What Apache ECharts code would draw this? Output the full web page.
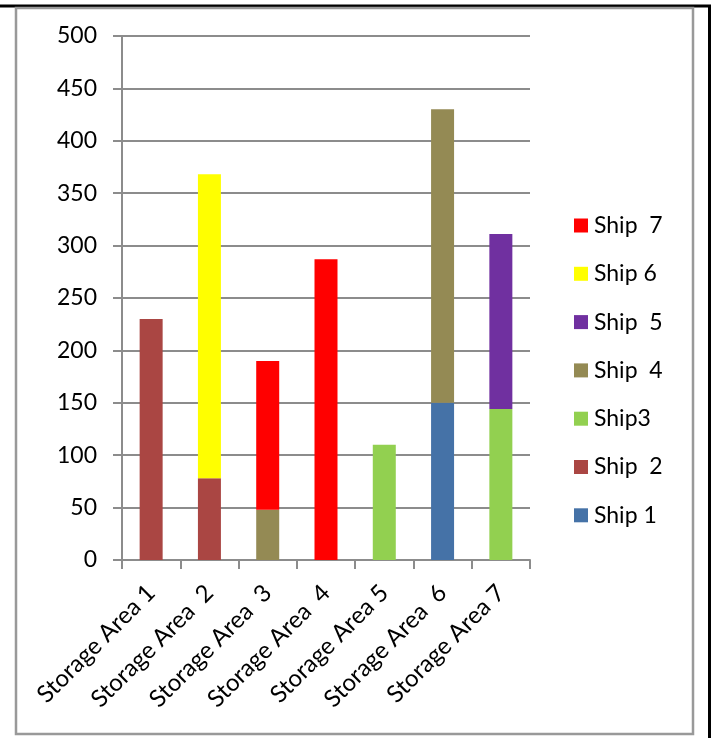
<!DOCTYPE html>
<html>
<head>
<meta charset="utf-8">
<script src="https://cdn.jsdelivr.net/npm/echarts@6/dist/echarts.min.js"></script>
<style>
  html, body { margin: 0; padding: 0; background: #fff; }
  #chart { width: 715px; height: 738px; }
</style>
</head>
<body>
<div id="chart"></div>
<script>
// categories and tick labels
var categories = ['Storage Area 1', 'Storage Area  2', 'Storage Area  3', 'Storage Area  4',
  'Storage Area 5', 'Storage Area  6', 'Storage Area 7'];
var yTicks = [0, 50, 100, 150, 200, 250, 300, 350, 400, 450, 500];

// series values, stacked bottom (Ship 1) to top (Ship 7)
var ship1 = [null, null, null, null, null, 150, null];
var ship2 = [230, 78, null, null, null, null, null];
var ship3 = [null, null, null, null, 110, null, 144];
var ship4 = [null, null, 48, null, null, 280, null];
var ship5 = [null, null, null, null, null, null, 167];
var ship6 = [null, 290, null, null, null, null, null];
var ship7 = [null, null, 142, 287, null, null, null];

var seriesNames = ['Ship 1', 'Ship  2', 'Ship3', 'Ship  4', 'Ship  5', 'Ship 6', 'Ship  7'];
var seriesData = [ship1, ship2, ship3, ship4, ship5, ship6, ship7];
var colors = ['#4572A7', '#AA4643', '#92D050', '#948A54', '#7030A0', '#FFFF00', '#FF0000'];

var FONT = 'Lato';
var chart = echarts.init(document.getElementById('chart'), null, { renderer: 'canvas' });

var series = seriesData.map(function(d, i) {
  return {
    name: seriesNames[i],
    type: 'bar',
    stack: 'total',
    barWidth: 23,
    data: d,
    itemStyle: { color: colors[i] },
    emphasis: { disabled: true }
  };
});

var option = {
  animation: false,
  backgroundColor: '#fff',
  color: colors,
  grid: {
    left: 122, right: 185, top: 36, bottom: 178,
    containLabel: false,
    outerBoundsMode: 'none'
  },
  legend: {
    orient: 'vertical',
    left: 574,
    top: 214,
    padding: 0,
    itemWidth: 14,
    itemHeight: 14,
    itemGap: 25.3,
    icon: 'rect',
    data: seriesNames.slice().reverse(),
    textStyle: { fontFamily: FONT, fontSize: 23, color: '#000', lineHeight: 23, padding: [0, 0, 0, 1] }
  },
  xAxis: {
    type: 'category',
    data: categories,
    axisLine: { lineStyle: { color: '#8c8c8c', width: 2 } },
    axisTick: { show: true, length: 9, lineStyle: { color: '#8c8c8c', width: 2 } },
    axisLabel: {
      rotate: 45, interval: 0, margin: 29,
      fontFamily: FONT, fontSize: 24, color: '#000'
    },
    splitLine: { show: false }
  },
  yAxis: {
    type: 'value',
    min: yTicks[0],
    max: yTicks[yTicks.length - 1],
    interval: 50,
    axisLine: { show: true, lineStyle: { color: '#8c8c8c', width: 2 } },
    axisTick: { show: true, length: 9, lineStyle: { color: '#8c8c8c', width: 2 } },
    axisLabel: { margin: 25, fontFamily: FONT, fontSize: 23, color: '#000' },
    splitLine: { show: true, lineStyle: { color: '#8c8c8c', width: 2 } }
  },
  graphic: [
    { type: 'line', shape: { x1: 0, y1: 6, x2: 711, y2: 6 }, style: { stroke: '#000', lineWidth: 3 }, z: 100 },
    { type: 'line', shape: { x1: 709.5, y1: 5, x2: 709.5, y2: 738 }, style: { stroke: '#000', lineWidth: 3 }, z: 100 },
    { type: 'rect', shape: { x: 16, y: 8, width: 677, height: 726 }, style: { fill: 'none', stroke: '#999', lineWidth: 2.5 }, z: 100 }
  ],
  series: series
};

chart.setOption(option);
</script>
</body>
</html>
